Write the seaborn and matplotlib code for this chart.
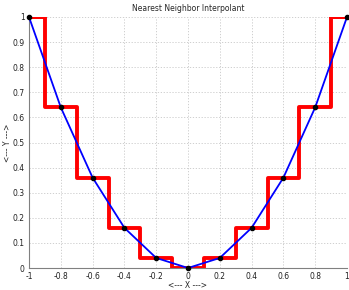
import matplotlib
matplotlib.use("Agg")
import matplotlib.pyplot as plt
import seaborn as sns
import numpy as np
import pandas as pd

x = [-1.0, -0.8, -0.6, -0.4, -0.2, 0.0, 0.2, 0.4, 0.6, 0.8, 1.0]
y = [1.0, 0.64, 0.36, 0.16, 0.04, 0.0, 0.04, 0.16, 0.36, 0.64, 1.0]
xticks = [-1, -0.8, -0.6, -0.4, -0.2, 0, 0.2, 0.4, 0.6, 0.8, 1]
xticklabels = ["-1", "-0.8", "-0.6", "-0.4", "-0.2", "0", "0.2", "0.4", "0.6", "0.8", "1"]
yticks = [0, 0.1, 0.2, 0.3, 0.4, 0.5, 0.6, 0.7, 0.8, 0.9, 1]
yticklabels = ["0", "0.1", "0.2", "0.3", "0.4", "0.5", "0.6", "0.7", "0.8", "0.9", "1"]

sns.set_theme(style="white")
plt.rcParams['font.family'] = ['DejaVu Sans']

fig = plt.figure(figsize=(3.49, 2.90), dpi=100)
ax = fig.add_axes([29/349, 22/290, 318/349, 251/290])

df = pd.DataFrame({"x": x, "y": y})
# nearest neighbour steps
ax.step(df["x"], df["y"], where="mid", color="red", lw=2.8, zorder=2, clip_on=True)
ax.plot([x[0], (x[0]+x[1])/2], [y[0], y[0]], color="red", lw=2.8, zorder=2)
ax.plot([(x[-2]+x[-1])/2, x[-1]], [y[-1], y[-1]], color="red", lw=2.8, zorder=2)
sns.lineplot(data=df, x="x", y="y", ax=ax, color="blue", lw=1.3, zorder=3, sort=False)
ax.scatter(df["x"], df["y"], color="black", s=9, zorder=4, clip_on=False)

ax.set_xlim(-1, 1)
ax.set_ylim(0, 1)
ax.set_xticks(xticks)
ax.set_xticklabels(xticklabels)
ax.set_yticks(yticks)
ax.set_yticklabels(yticklabels)
ax.grid(True, color="#c8c8c8", linestyle=(0, (1.5, 2)), lw=0.6)
for s in ["top", "right"]:
    ax.spines[s].set_visible(False)
for s in ["left", "bottom"]:
    ax.spines[s].set_color("#808080")
    ax.spines[s].set_linewidth(0.8)
ax.tick_params(axis="both", labelsize=5.5, direction="in", length=2.5, width=0.6, pad=3,
               colors="#808080", labelcolor="#202020")
ax.set_xlabel("<--- X --->", fontsize=5.5, va="center")
ax.set_ylabel("<--- Y --->", fontsize=5.5, va="center")
ax.xaxis.set_label_coords(0.5, -17/251)
ax.yaxis.set_label_coords(-21/318, 0.5)
ax.set_title("Nearest Neighbor Interpolant", fontsize=5.5, pad=4)

fig.savefig("out.png", dpi=100)
